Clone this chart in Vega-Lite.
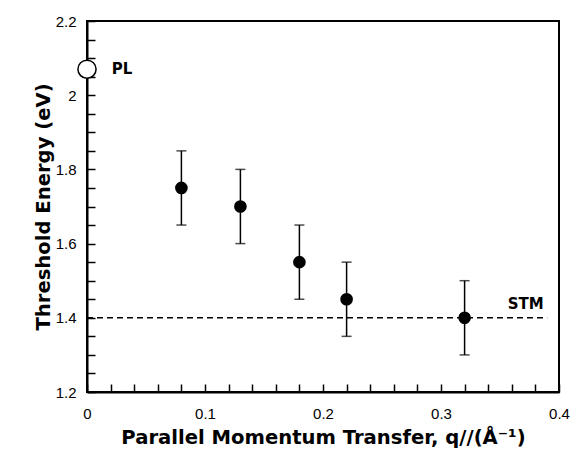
{
  "$schema": "https://vega.github.io/schema/vega-lite/v6.json",
  "width": 472,
  "height": 371,
  "autosize": "none",
  "padding": {"left": 87, "top": 21, "right": 20, "bottom": 64},
  "background": "white",
  "config": {
    "view": {"stroke": "black", "strokeWidth": 2},
    "font": "Liberation Sans",
    "axis": {
      "domainColor": "black", "domainWidth": 2, "tickColor": "black", "tickWidth": 1.5,
      "labelColor": "black", "labelFont": "Liberation Sans", "labelFontSize": 15,
      "titleColor": "black", "titleFont": "DejaVu Sans", "titleFontSize": 19.6, "titleFontWeight": "bold",
      "grid": false, "labelOverlap": false, "tickSize": -8, "tickCount": 100
    }
  },
  "datasets": {
    "pts": [
      {"q": 0.08, "E": 1.75, "lo": 1.65, "hi": 1.85},
      {"q": 0.13, "E": 1.70, "lo": 1.60, "hi": 1.80},
      {"q": 0.18, "E": 1.55, "lo": 1.45, "hi": 1.65},
      {"q": 0.22, "E": 1.45, "lo": 1.35, "hi": 1.55},
      {"q": 0.32, "E": 1.40, "lo": 1.30, "hi": 1.50}
    ],
    "pl": [{"q": 0.0, "E": 2.07}],
    "stm": [{"q": 0.0, "q2": 0.39, "E": 1.4}],
    "labels": [
      {"q": 0.021, "E": 2.07, "t": "PL"},
      {"q": 0.387, "E": 1.4, "t": "STM"}
    ]
  },
  "layer": [
    {
      "data": {"name": "stm"},
      "mark": {"type": "rule", "strokeDash": [6, 4], "strokeWidth": 1.5, "color": "black"},
      "encoding": {
        "x": {"field": "q", "type": "quantitative",
          "scale": {"domain": [0, 0.4], "nice": false},
          "axis": {
            "title": "Parallel Momentum Transfer, q//(Å⁻¹)",
            "values": [0, 0.02, 0.04, 0.06, 0.08, 0.1, 0.12, 0.14, 0.16, 0.18, 0.2, 0.22, 0.24, 0.26, 0.28, 0.3, 0.32, 0.34, 0.36, 0.38, 0.4],
            "labelExpr": "abs(datum.value*10 - round(datum.value*10)) < 1e-6 ? format(datum.value, '~g') : ''",
            "encode": {"ticks": {"update": {"y2": {"signal": "abs(datum.value*10 - round(datum.value*10)) < 1e-6 ? -8 : -5"}}}},
            "labelPadding": 22,
            "titlePadding": 7,
            "labelFlush": false
          }
        },
        "x2": {"field": "q2"},
        "y": {"field": "E", "type": "quantitative",
          "scale": {"domain": [1.2, 2.2], "nice": false, "zero": false},
          "axis": {
            "title": "Threshold Energy (eV)",
            "values": [1.2, 1.25, 1.3, 1.35, 1.4, 1.45, 1.5, 1.55, 1.6, 1.65, 1.7, 1.75, 1.8, 1.85, 1.9, 1.95, 2.0, 2.05, 2.1, 2.15, 2.2],
            "labelExpr": "abs(datum.value*5 - round(datum.value*5)) < 1e-6 ? format(datum.value, '~g') : ''",
            "encode": {"ticks": {"update": {"x2": {"signal": "abs(datum.value*5 - round(datum.value*5)) < 1e-6 ? 8 : 5"}}}},
            "labelPadding": 19,
            "titlePadding": 2,
            "labelFlush": false
          }
        }
      }
    },
    {
      "data": {"name": "pts"},
      "mark": {"type": "rule", "strokeWidth": 1.5, "color": "black"},
      "encoding": {
        "x": {"field": "q", "type": "quantitative"},
        "y": {"field": "lo", "type": "quantitative"},
        "y2": {"field": "hi"}
      }
    },
    {
      "data": {"name": "pts"},
      "mark": {"type": "tick", "orient": "horizontal", "size": 10, "thickness": 1.5, "color": "black"},
      "encoding": {
        "x": {"field": "q", "type": "quantitative"},
        "y": {"field": "lo", "type": "quantitative"}
      }
    },
    {
      "data": {"name": "pts"},
      "mark": {"type": "tick", "orient": "horizontal", "size": 10, "thickness": 1.5, "color": "black"},
      "encoding": {
        "x": {"field": "q", "type": "quantitative"},
        "y": {"field": "hi", "type": "quantitative"}
      }
    },
    {
      "data": {"name": "pts"},
      "mark": {"type": "point", "shape": "circle", "filled": true, "size": 160, "color": "black", "opacity": 1},
      "encoding": {
        "x": {"field": "q", "type": "quantitative"},
        "y": {"field": "E", "type": "quantitative"}
      }
    },
    {
      "data": {"name": "pl"},
      "mark": {"type": "point", "shape": "circle", "filled": true, "fill": "white", "stroke": "black", "strokeWidth": 1.5, "size": 330, "opacity": 1, "clip": false},
      "encoding": {
        "x": {"field": "q", "type": "quantitative"},
        "y": {"field": "E", "type": "quantitative"}
      }
    },
    {
      "data": {"name": "labels"},
      "transform": [{"filter": "datum.t == 'PL'"}],
      "mark": {"type": "text", "align": "left", "baseline": "middle", "font": "DejaVu Sans", "fontWeight": "bold", "fontSize": 15, "color": "black"},
      "encoding": {
        "x": {"field": "q", "type": "quantitative"},
        "y": {"field": "E", "type": "quantitative"},
        "text": {"field": "t"}
      }
    },
    {
      "data": {"name": "labels"},
      "transform": [{"filter": "datum.t == 'STM'"}],
      "mark": {"type": "text", "align": "right", "baseline": "bottom", "dy": -6, "font": "DejaVu Sans", "fontWeight": "bold", "fontSize": 15, "color": "black"},
      "encoding": {
        "x": {"field": "q", "type": "quantitative"},
        "y": {"field": "E", "type": "quantitative"},
        "text": {"field": "t"}
      }
    }
  ]
}
